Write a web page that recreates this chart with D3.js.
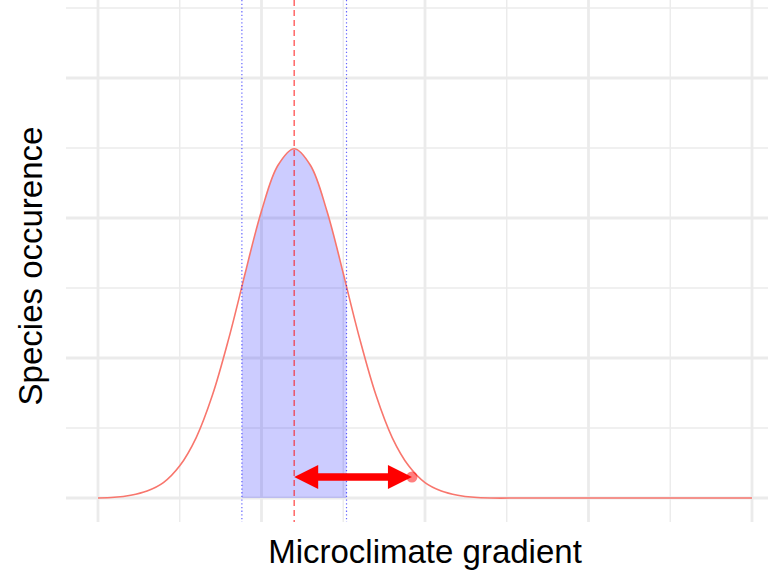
<!DOCTYPE html>
<html>
<head>
<meta charset="utf-8">
<script src="https://cdn.jsdelivr.net/npm/d3@7"></script>
<style>
  body { margin: 0; background: #fff; }
  text { font-family: "Liberation Sans", Arial, sans-serif; fill: #000; }
</style>
</head>
<body>
<svg id="chart" width="768" height="573"></svg>
<script>
    // values
    var xMajor = [0, 0.25, 0.5, 0.75, 1];
    var xMinor = [0.125, 0.375, 0.625, 0.875];
    var yMajor = [0, 2, 4, 6];
    var yMinor = [1, 3, 5, 7];

    var curveX = [0, 0.025, 0.05, 0.075, 0.1, 0.125, 0.15, 0.175, 0.2, 0.22, 0.225, 0.25, 0.275, 0.3,
                  0.325, 0.35, 0.375, 0.38, 0.4, 0.425, 0.45, 0.475, 0.5, 0.525, 0.55, 0.575, 0.6,
                  0.65, 0.7, 0.8, 0.9, 1];
    var curveY = [0, 0.01, 0.04, 0.1, 0.22, 0.46, 0.86, 1.47, 2.28, 3.02, 3.21, 4.1, 4.75, 4.99,
                  4.75, 4.1, 3.21, 3.02, 2.28, 1.47, 0.86, 0.46, 0.22, 0.1, 0.04, 0.01, 0,
                  0, 0, 0, 0, 0];

    var optimum = 0.3;
    var sdBounds = [0.22, 0.38];
    var arrowX = [0.3, 0.48];
    var arrowY = 0.3;
    var pointX = 0.48, pointY = 0.3;

    var svg = d3.select("#chart");
    var x = d3.scaleLinear().domain([0, 1]).range([98, 752]);
    var y = d3.scaleLinear().domain([0, 7]).range([498, 8]);
    var panelLeft = 66, panelRight = 768, panelTop = 0, panelBottom = 522;

    var grid = svg.append("g").attr("class", "grid");
    grid.selectAll("line.ymin").data(yMinor).enter().append("line")
      .attr("x1", panelLeft).attr("x2", panelRight)
      .attr("y1", y).attr("y2", y)
      .attr("stroke", "#ebebeb").attr("stroke-width", 1.4);
    grid.selectAll("line.xmin").data(xMinor).enter().append("line")
      .attr("x1", x).attr("x2", x)
      .attr("y1", panelTop).attr("y2", panelBottom)
      .attr("stroke", "#ebebeb").attr("stroke-width", 1.4);
    grid.selectAll("line.ymaj").data(yMajor).enter().append("line")
      .attr("x1", panelLeft).attr("x2", panelRight)
      .attr("y1", y).attr("y2", y)
      .attr("stroke", "#ebebeb").attr("stroke-width", 2.8);
    grid.selectAll("line.xmaj").data(xMajor).enter().append("line")
      .attr("x1", x).attr("x2", x)
      .attr("y1", panelTop).attr("y2", panelBottom)
      .attr("stroke", "#ebebeb").attr("stroke-width", 2.8);

    var pts = curveX.map(function(d, i) { return [d, curveY[i]]; });
    var shaded = pts.filter(function(p) { return p[0] >= sdBounds[0] && p[0] <= sdBounds[1]; });

    var area = d3.area()
      .x(function(p) { return x(p[0]); })
      .y0(y(0))
      .y1(function(p) { return y(p[1]); })
      .curve(d3.curveCatmullRom);
    svg.append("path")
      .datum(shaded)
      .attr("d", area)
      .attr("fill", "blue")
      .attr("fill-opacity", 0.2);

    var line = d3.line()
      .x(function(p) { return x(p[0]); })
      .y(function(p) { return y(p[1]); })
      .curve(d3.curveCatmullRom);
    svg.append("path")
      .datum(pts)
      .attr("d", line)
      .attr("fill", "none")
      .attr("stroke", "#f8766d")
      .attr("stroke-width", 1.6);

    svg.selectAll("line.sd").data(sdBounds).enter().append("line")
      .attr("x1", x).attr("x2", x)
      .attr("y1", panelTop).attr("y2", panelBottom)
      .attr("stroke", "blue").attr("stroke-opacity", 0.6)
      .attr("stroke-width", 1.2)
      .attr("stroke-dasharray", "1.3,2.4");

    svg.append("line")
      .attr("x1", x(optimum)).attr("x2", x(optimum))
      .attr("y1", panelTop).attr("y2", panelBottom)
      .attr("stroke", "red").attr("stroke-opacity", 0.6)
      .attr("stroke-width", 1.5)
      .attr("stroke-dasharray", "6,4");

    svg.append("circle")
      .attr("cx", x(pointX)).attr("cy", y(pointY))
      .attr("r", 5.5)
      .attr("fill", "red").attr("fill-opacity", 0.5);

    // double arrow
    var headLen = 24, headHalf = 12;
    var ax0 = x(arrowX[0]), ax1 = x(arrowX[1]), ay = y(arrowY);
    svg.append("line")
      .attr("x1", ax0 + headLen - 2).attr("x2", ax1 - headLen + 2)
      .attr("y1", ay).attr("y2", ay)
      .attr("stroke", "red").attr("stroke-width", 7.5);
    svg.append("path")
      .attr("d", "M" + ax0 + "," + ay + "L" + (ax0 + headLen) + "," + (ay - headHalf) +
                 "L" + (ax0 + headLen) + "," + (ay + headHalf) + "Z")
      .attr("fill", "red");
    svg.append("path")
      .attr("d", "M" + ax1 + "," + ay + "L" + (ax1 - headLen) + "," + (ay - headHalf) +
                 "L" + (ax1 - headLen) + "," + (ay + headHalf) + "Z")
      .attr("fill", "red");

    svg.append("text")
      .attr("x", 425).attr("y", 563)
      .attr("text-anchor", "middle")
      .attr("font-size", 33)
      .text("Microclimate gradient");

    svg.append("text")
      .attr("transform", "translate(42,266) rotate(-90)")
      .attr("text-anchor", "middle")
      .attr("font-size", 33)
      .text("Species occurence");
</script>
</body>
</html>
